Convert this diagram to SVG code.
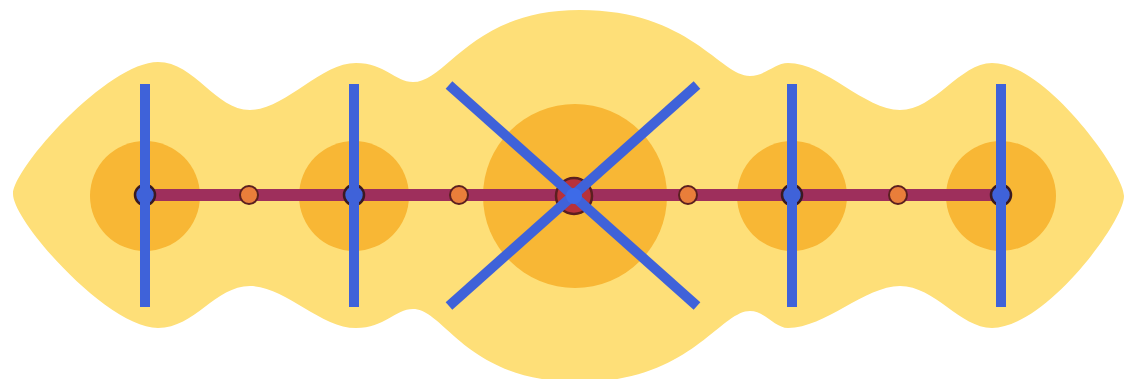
<svg xmlns="http://www.w3.org/2000/svg" width="1130" height="379" viewBox="0 0 1130 379">
  <style>
    .blob { fill: #fedf78; }
    .halo { fill: #f8b735; }
    .axis { stroke: #9e2f5c; stroke-width: 12; fill: none; }
    .cut { stroke: #3f62d9; stroke-width: 10; stroke-linecap: butt; fill: none; }
    .mid { fill: #e97e3a; stroke: #5b1f1f; stroke-width: 2; }
    .end { fill: #3f62d9; stroke: #3a1a22; stroke-width: 2.5; }
    .hub { fill: #b8323a; stroke: #5b1f1f; stroke-width: 2.5; }
  </style>
  <rect width="1130" height="379" fill="#ffffff"/>
  <g id="blob">
    <path class="blob" d="M 13,194 C 13,168 108,62 158,62 C 195,62 215,110 250,110 C 285,110 320,63 356,63 C 385,63 395,82 413,82 C 448,82 470,10 580,10 C 690,10 720,76 750,76 C 765,76 775,63 788,63 C 825,63 865,110 900,110 C 935,110 960,63 992,63 C 1045,63 1124,172 1124,196 C 1124,222 1045,328 992,328 C 960,328 935,286 900,286 C 865,286 825,328 788,328 C 775,328 765,311 750,311 C 720,311 690,382 580,382 C 465,382 445,309 413,309 C 395,309 385,328 356,328 C 320,328 285,286 250,286 C 215,286 195,328 158,328 C 108,328 13,222 13,194 Z"/>
  </g>
  <g id="halos">
    <circle class="halo" cx="145" cy="196" r="55"/>
    <circle class="halo" cx="354" cy="196" r="55"/>
    <circle class="halo" cx="575" cy="196" r="92"/>
    <circle class="halo" cx="792" cy="196" r="55"/>
    <circle class="halo" cx="1001" cy="196" r="55"/>
  </g>
  <g id="connectors">
    <line class="axis" x1="145" y1="195" x2="1001" y2="195"/>
  </g>
  <g id="node-center-hub">
    <circle class="hub" cx="574" cy="196" r="18"/>
  </g>
  <g id="node-end-1"><circle class="end" cx="145" cy="195" r="10"/></g>
  <g id="node-end-2"><circle class="end" cx="354" cy="195" r="10"/></g>
  <g id="node-end-4"><circle class="end" cx="792" cy="195" r="10"/></g>
  <g id="node-end-5"><circle class="end" cx="1001" cy="195" r="10"/></g>
  <g id="cuts">
    <line class="cut" x1="145" y1="84" x2="145" y2="307"/>
    <line class="cut" x1="354" y1="84" x2="354" y2="307"/>
    <line class="cut" x1="792" y1="84" x2="792" y2="307"/>
    <line class="cut" x1="1001" y1="84" x2="1001" y2="307"/>
    <line class="cut" x1="449" y1="85" x2="697" y2="306"/>
    <line class="cut" x1="697" y1="85" x2="449" y2="306"/>
    <circle cx="574" cy="196" r="8" fill="#3d6be8"/>
  </g>
  <g id="node-mid-1"><circle class="mid" cx="249" cy="195" r="9"/></g>
  <g id="node-mid-2"><circle class="mid" cx="459" cy="195" r="9"/></g>
  <g id="node-mid-3"><circle class="mid" cx="688" cy="195" r="9"/></g>
  <g id="node-mid-4"><circle class="mid" cx="898" cy="195" r="9"/></g>
</svg>
